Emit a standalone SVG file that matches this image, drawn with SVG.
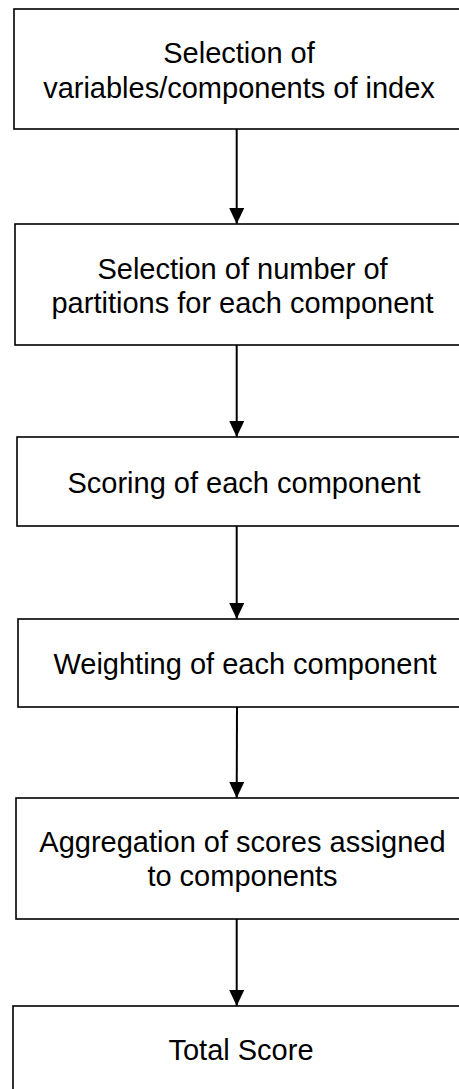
<svg xmlns="http://www.w3.org/2000/svg" width="459" height="1089" viewBox="0 0 459 1089">
<style>
.box{fill:#fff;stroke:#000;stroke-width:1.6}
.lbl{font-family:"Liberation Sans",Arial,sans-serif;font-size:29px;fill:#000;text-anchor:middle}
.con{stroke:#000;stroke-width:2;fill:none}
</style>
<defs>
<marker id="ah" markerUnits="userSpaceOnUse" markerWidth="16" markerHeight="15" refX="16" refY="7.5" orient="auto">
<path d="M0,0 L16,7.5 L0,15 z" fill="#000"/>
</marker>
</defs>
<rect width="459" height="1089" fill="#fff"/>
<g id="connectors">
<line class="con" x1="236.7" y1="129" x2="236.7" y2="224" marker-end="url(#ah)"/>
<line class="con" x1="236.7" y1="345" x2="236.7" y2="437" marker-end="url(#ah)"/>
<line class="con" x1="236.7" y1="526" x2="236.7" y2="619" marker-end="url(#ah)"/>
<line class="con" x1="237" y1="705" x2="236.7" y2="798" marker-end="url(#ah)"/>
<line class="con" x1="236.7" y1="919" x2="236.7" y2="1006" marker-end="url(#ah)"/>
</g>
<g id="n1">
<rect class="box" x="14" y="9" width="460" height="120"/>
<text class="lbl" x="239" y="63">Selection of</text>
<text class="lbl" x="239" y="97.5">variables/components of index</text>
</g>
<g id="n2">
<rect class="box" x="15" y="224" width="460" height="121"/>
<text class="lbl" x="242.5" y="278.5">Selection of number of</text>
<text class="lbl" x="242.5" y="312.5">partitions for each component</text>
</g>
<g id="n3">
<rect class="box" x="17" y="437" width="460" height="89"/>
<text class="lbl" x="244" y="492.5">Scoring of each component</text>
</g>
<g id="n4">
<rect class="box" x="18" y="619" width="460" height="88"/>
<text class="lbl" x="245" y="673.5">Weighting of each component</text>
</g>
<g id="n5">
<rect class="box" x="16" y="798" width="460" height="121"/>
<text class="lbl" x="242.5" y="852">Aggregation of scores assigned</text>
<text class="lbl" x="242.5" y="886">to components</text>
</g>
<g id="n6">
<rect class="box" x="13" y="1006" width="460" height="100"/>
<text class="lbl" x="241" y="1060">Total Score</text>
</g>
</svg>
